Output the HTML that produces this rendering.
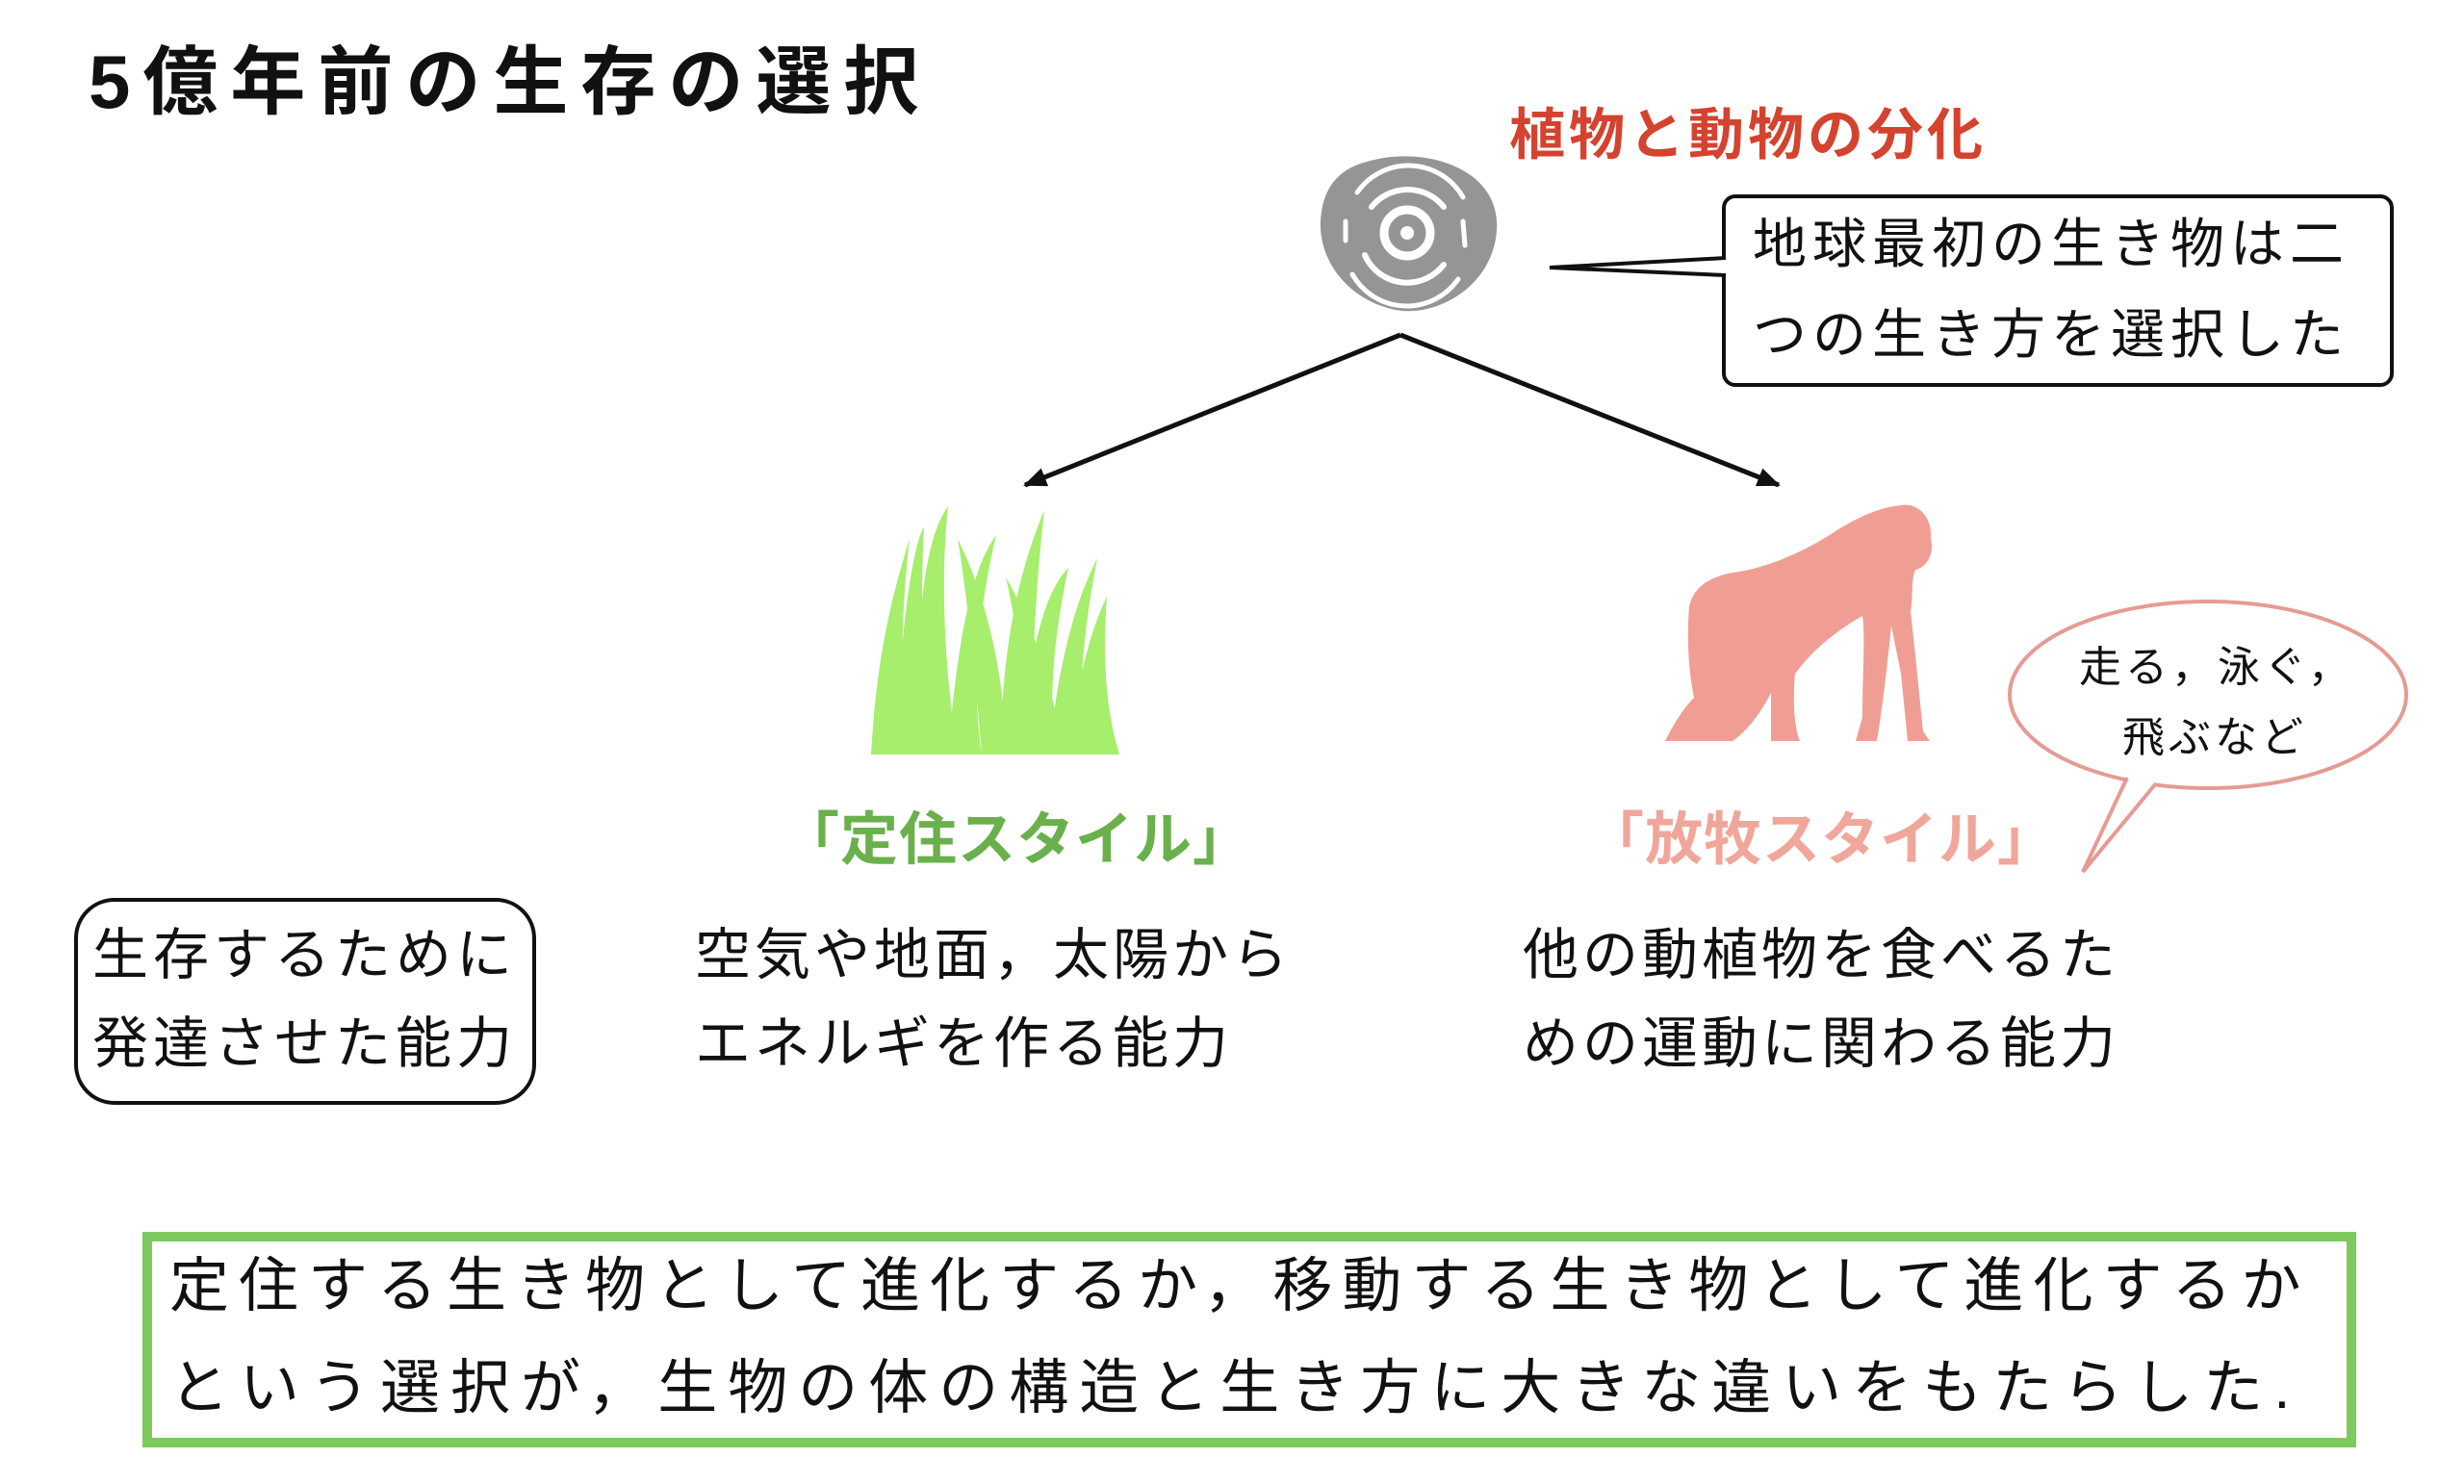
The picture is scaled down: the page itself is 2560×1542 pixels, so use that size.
<!DOCTYPE html>
<html><head><meta charset="utf-8"><style>
body{margin:0;width:2560px;height:1542px;background:#fff;position:relative;overflow:hidden;font-family:"Liberation Sans","Noto Sans CJK JP",sans-serif;color:#111}
.t{position:absolute;white-space:nowrap;line-height:1}
</style></head><body>
<div class="t" style="left:92px;top:46px;font-size:78px;font-weight:bold;letter-spacing:13px">5億年前の生存の選択</div>
<div class="t" style="left:1568px;top:112px;font-size:58px;font-weight:bold;color:#d4432f;letter-spacing:4px">植物と動物の分化</div>
<svg width="2560" height="1542" style="position:absolute;left:0;top:0">
<defs><marker id="ah" markerWidth="24" markerHeight="20" refX="22" refY="10" orient="auto" markerUnits="userSpaceOnUse" viewBox="0 0 24 20"><path d="M0,0 L24,10 L0,20z" fill="#111"/></marker></defs>
<path d="M1420,168 C1480,150 1560,175 1555,240 C1550,300 1490,330 1450,322 C1400,312 1370,270 1372,230 C1374,195 1390,176 1420,168z" fill="#959595"/>
<g fill="none" stroke="#fff" stroke-linecap="round">
<circle cx="1462" cy="242" r="24" stroke-width="9"/>
<circle cx="1462" cy="242" r="7" fill="#fff" stroke="none"/>
<path d="M1425,215 A48,48 0 0 1 1500,215" stroke-width="6"/>
<path d="M1418,265 A48,48 0 0 0 1500,275" stroke-width="6"/>
<path d="M1410,200 A65,65 0 0 1 1520,205" stroke-width="5"/>
<path d="M1405,285 A65,65 0 0 0 1515,290" stroke-width="5"/>
<path d="M1520,230 L1522,255" stroke-width="5"/>
<path d="M1398,230 L1398,250" stroke-width="5"/>
</g>
<path d="M1455,348 L1065,504" stroke="#111" stroke-width="5" fill="none" marker-end="url(#ah)"/>
<path d="M1455,348 L1848,504" stroke="#111" stroke-width="5" fill="none" marker-end="url(#ah)"/>
<rect x="1791" y="204" width="694" height="196" rx="12" fill="#fff" stroke="#111" stroke-width="4"/>
<path d="M1793,268 L1610,278 L1793,286" fill="#fff" stroke="#111" stroke-width="4"/>
<rect x="1789" y="270" width="8" height="14" fill="#fff"/>
<g fill="#a6ee6c">
<path d="M905,784 C910,700 920,640 945,560 C935,650 935,720 945,784z"/>
<path d="M930,784 C935,650 950,560 960,548 C955,640 960,720 975,784z"/>
<path d="M955,784 C950,650 960,560 985,526 C975,620 985,720 995,784z"/>
<path d="M985,784 C995,660 1010,590 1035,556 C1015,640 1010,720 1020,784z"/>
<path d="M1020,784 C1010,660 1000,590 995,560 C1030,630 1045,720 1045,784z"/>
<path d="M1040,784 C1040,670 1060,590 1085,530 C1075,620 1070,720 1075,784z"/>
<path d="M1060,784 C1070,660 1090,610 1110,590 C1095,660 1090,720 1095,784z"/>
<path d="M1090,784 C1100,680 1120,620 1140,580 C1125,660 1120,720 1125,784z"/>
<path d="M1110,784 C1120,700 1135,650 1150,620 C1145,690 1150,740 1163,784z"/>
<path d="M1080,784 C1060,680 1050,620 1045,600 C1075,650 1095,720 1105,784z"/>
</g>
<path fill="#f09e93" d="M1975,525 C1995,522 2008,540 2006,560 C2010,575 2002,590 1990,592 C1985,605 1988,620 1985,635 C1990,680 1995,730 1998,760 L2005,770 L1982,770 L1975,700 L1965,650 C1960,700 1955,740 1950,770 L1928,770 L1935,745 C1935,700 1938,660 1935,640 C1900,660 1880,680 1865,700 C1862,730 1865,760 1870,770 L1840,770 L1840,720 C1830,740 1815,760 1800,770 L1730,770 C1740,750 1750,735 1760,725 C1755,700 1752,670 1755,630 C1760,610 1775,600 1800,595 C1840,590 1880,570 1910,550 C1935,535 1955,527 1975,525z"/>
<ellipse cx="2294" cy="722" rx="206" ry="97" fill="#fff" stroke="#e59b93" stroke-width="4"/>
<path d="M2210,808 L2164,906 L2240,814" fill="#fff" stroke="#e59b93" stroke-width="4"/>
<path d="M2212,806 L2238,812" stroke="#fff" stroke-width="6"/>
<rect x="79" y="935" width="476" height="211" rx="40" fill="none" stroke="#111" stroke-width="4"/>
<rect x="153" y="1285" width="2290" height="214" fill="none" stroke="#7dc95e" stroke-width="10"/>
</svg>
<div class="t" style="left:1821px;top:226px;font-size:56px;letter-spacing:6px">地球最初の生き物は二</div>
<div class="t" style="left:1821px;top:320px;font-size:56px;letter-spacing:6px">つの生き方を選択した</div>
<div class="t" style="left:2160px;top:672px;font-size:44px;letter-spacing:4px">走る，泳ぐ，</div>
<div class="t" style="left:2205px;top:745px;font-size:44px;letter-spacing:4px">飛ぶなど</div>
<div class="t" style="left:812px;top:843px;font-size:60px;font-weight:bold;color:#6ab04c;letter-spacing:1px">「定住スタイル」</div>
<div class="t" style="left:1648px;top:843px;font-size:60px;font-weight:bold;color:#f0a69a;letter-spacing:1px">「放牧スタイル」</div>
<div class="t" style="left:96px;top:964px;font-size:58px;letter-spacing:5px">生存するために</div>
<div class="t" style="left:96px;top:1056px;font-size:58px;letter-spacing:5px">発達させた能力</div>
<div class="t" style="left:722px;top:964px;font-size:58px;letter-spacing:4px">空気や地面，太陽から</div>
<div class="t" style="left:722px;top:1056px;font-size:58px;letter-spacing:4px">エネルギを作る能力</div>
<div class="t" style="left:1582px;top:964px;font-size:58px;letter-spacing:4px">他の動植物を食べるた</div>
<div class="t" style="left:1582px;top:1056px;font-size:58px;letter-spacing:4px">めの運動に関わる能力</div>
<div class="t" style="left:176px;top:1306px;font-size:62px;letter-spacing:10px">定住する生き物として進化するか，移動する生き物として進化するか</div>
<div class="t" style="left:176px;top:1412px;font-size:62px;letter-spacing:11px">という選択が，生物の体の構造と生き方に大きな違いをもたらした.</div>
</body></html>
